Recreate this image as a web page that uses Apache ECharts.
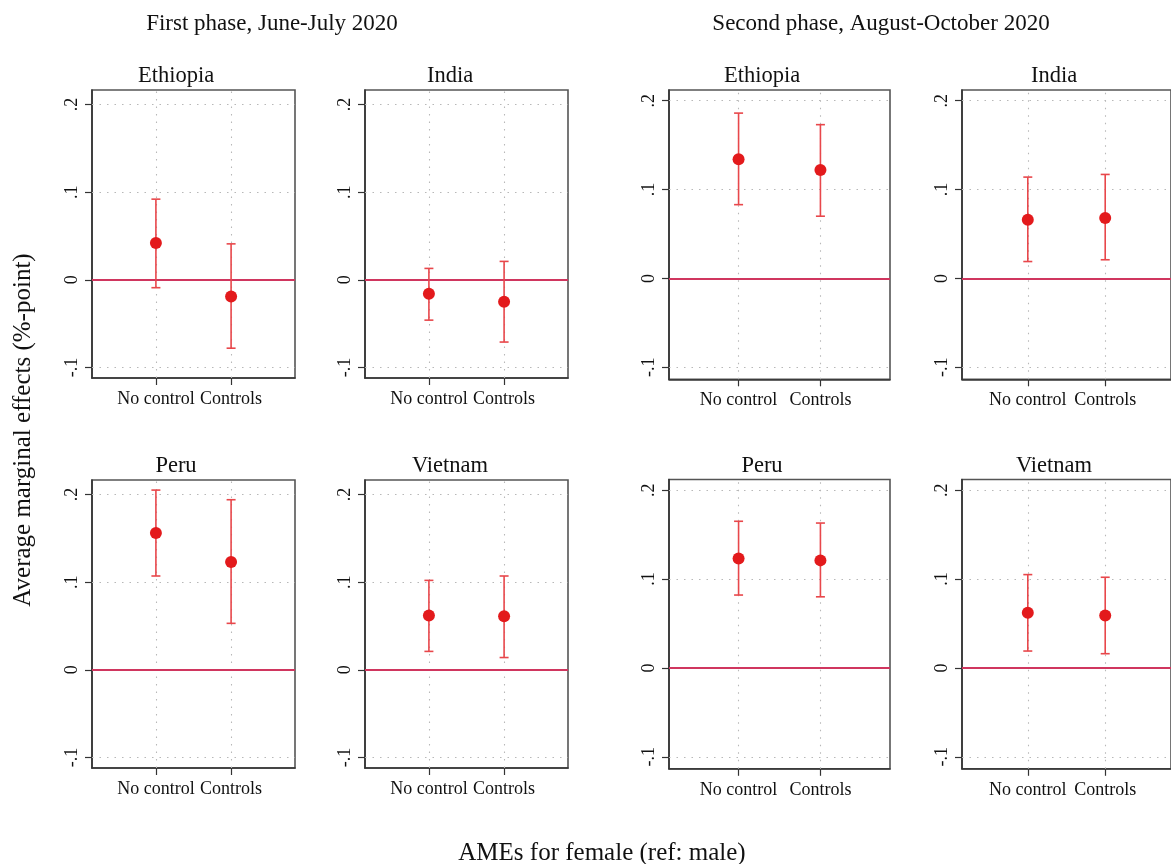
<!DOCTYPE html>
<html>
<head>
<meta charset="utf-8">
<script src="https://cdn.jsdelivr.net/npm/echarts@6/dist/echarts.min.js"></script>
<style>
  html, body { margin: 0; padding: 0; background: #ffffff; }
  #chart { width: 1171px; height: 864px; }
</style>
</head>
<body>
<div id="chart"></div>
<script>
// ---- Data ----------------------------------------------------------------
const phaseTitles = ['First phase, June-July 2020', 'Second phase, August-October 2020'];
const countries = ['Ethiopia', 'India', 'Peru', 'Vietnam'];
const specLabels = ['No control', 'Controls'];
const specPositions = [1, 2];
const yTickValues = [-0.1, 0, 0.1, 0.2];

// Average marginal effects for female (ref: male) with 95% CIs,
// one row per country, columns = [No control, Controls]
const phase1Estimate = [[0.042, -0.019], [-0.016, -0.025], [0.156, 0.123], [0.062, 0.061]];
const phase1Lower    = [[-0.009, -0.078], [-0.046, -0.071], [0.107, 0.053], [0.021, 0.014]];
const phase1Upper    = [[0.092, 0.041], [0.013, 0.021], [0.205, 0.194], [0.102, 0.107]];

const phase2Estimate = [[0.134, 0.122], [0.066, 0.068], [0.123, 0.121], [0.062, 0.059]];
const phase2Lower    = [[0.083, 0.070], [0.019, 0.021], [0.082, 0.080], [0.019, 0.016]];
const phase2Upper    = [[0.186, 0.173], [0.114, 0.117], [0.165, 0.163], [0.105, 0.102]];

// ---- Layout & style ------------------------------------------------------
const FONT = "'Liberation Serif', 'Times New Roman', serif";
const TEXT = '#111111';
const DOT = '#e31a1c';
const BAR = '#e8474b';
const ZERO = '#d0365f';
const GRIDC = '#b8b8b8';

const phaseLayout = [
  { lefts: [92, 365], width: 203, tops: [90, 480], height: 288,
    yMin: -0.112, yMax: 0.2165, xMin: 0.15, xMax: 2.85,
    titleX: [176, 450], headerX: 272 },
  { lefts: [669, 962], width: 221, tops: [90, 479.5], height: 289.3,
    yMin: -0.1135, yMax: 0.212, xMin: 0.15, xMax: 2.85,
    titleX: [762, 1054], headerX: 881 }
];
const titleY = [76, 466];

const phaseData = [
  { est: phase1Estimate, lo: phase1Lower, hi: phase1Upper },
  { est: phase2Estimate, lo: phase2Lower, hi: phase2Upper }
];

function stataFmt(v) {
  if (Math.abs(v) < 1e-9) return '0';
  const s = Math.abs(v).toFixed(1).replace(/^0/, '');
  return (v < 0 ? '-' : '') + s;
}

const grids = [], xAxes = [], yAxes = [], series = [], graphics = [];

const dotted = { color: GRIDC, width: 1.1, type: [1.5, 6] };

phaseLayout.forEach((L, p) => {
  graphics.push({
    type: 'text', x: L.headerX, y: 24,
    style: { text: phaseTitles[p], font: `23px ${FONT}`, fill: TEXT,
             textAlign: 'center', textVerticalAlign: 'middle' }
  });
  countries.forEach((country, c) => {
    const row = Math.floor(c / 2), col = c % 2;
    const idx = grids.length;
    grids.push({
      left: L.lefts[col], top: L.tops[row], width: L.width, height: L.height,
      show: true, borderColor: '#555555', borderWidth: 1.6, backgroundColor: '#ffffff'
    });
    xAxes.push({
      type: 'value', gridIndex: idx, min: L.xMin, max: L.xMax,
      axisLine: { show: true, onZero: false, lineStyle: { color: '#333333', width: 1.6 } },
      axisTick: { show: true, customValues: specPositions, length: 7, lineStyle: { color: '#333333', width: 1.2 } },
      axisLabel: {
        customValues: specPositions, margin: 12,
        fontFamily: FONT, fontSize: 18, color: TEXT,
        formatter: v => specLabels[specPositions.indexOf(Math.round(v))] || ''
      },
      splitLine: { show: false }
    });
    yAxes.push({
      type: 'value', gridIndex: idx, min: L.yMin, max: L.yMax,
      axisLine: { show: true, lineStyle: { color: '#333333', width: 1.6 } },
      axisTick: { show: true, customValues: yTickValues, length: 7, lineStyle: { color: '#333333', width: 1.2 } },
      axisLabel: {
        customValues: yTickValues, rotate: 90, margin: 11,
        fontFamily: FONT, fontSize: 18, color: TEXT,
        formatter: v => stataFmt(v)
      },
      splitLine: { show: false }
    });

    const D = phaseData[p];
    const ciData = specPositions.map((x, k) => [x, D.lo[c][k], D.hi[c][k]]);
    const ptData = specPositions.map((x, k) => [x, D.est[c][k]]);

    // reference grid, category guides and the zero line
    const guideLines = yTickValues.filter(v => v !== 0).map(v => ({ yAxis: v }))
      .concat(specPositions.map(x => ({ xAxis: x })))
      .concat([{ yAxis: 0, lineStyle: { color: ZERO, width: 1.8, type: 'solid' } }]);

    series.push({
      type: 'custom', xAxisIndex: idx, yAxisIndex: idx, z: 3,
      data: ciData,
      encode: { x: 0, y: [1, 2] },
      renderItem: (params, api) => {
        const x = api.value(0);
        const top = api.coord([x, api.value(2)]);
        const bot = api.coord([x, api.value(1)]);
        const hw = 4.5;
        const st = { stroke: BAR, lineWidth: 1.6 };
        return {
          type: 'group',
          children: [
            { type: 'line', shape: { x1: top[0], y1: top[1], x2: bot[0], y2: bot[1] }, style: st },
            { type: 'line', shape: { x1: top[0] - hw, y1: top[1], x2: top[0] + hw, y2: top[1] }, style: st },
            { type: 'line', shape: { x1: bot[0] - hw, y1: bot[1], x2: bot[0] + hw, y2: bot[1] }, style: st }
          ]
        };
      }
    });
    series.push({
      type: 'scatter', xAxisIndex: idx, yAxisIndex: idx, z: 4,
      symbol: 'circle', symbolSize: 12,
      itemStyle: { color: DOT, opacity: 1 },
      data: ptData,
      markLine: {
        silent: true, symbol: 'none', z: 2,
        label: { show: false },
        lineStyle: dotted,
        data: guideLines
      }
    });

    graphics.push({
      type: 'text', x: L.titleX[col], y: titleY[row],
      style: { text: country, font: `22.5px ${FONT}`, fill: TEXT,
               textAlign: 'center', textVerticalAlign: 'middle' }
    });
  });
});

graphics.push({
  type: 'text', x: 23, y: 430, rotation: Math.PI / 2,
  style: { text: 'Average marginal effects (%-point)', font: `25px ${FONT}`, fill: TEXT,
           textAlign: 'center', textVerticalAlign: 'middle' }
});
graphics.push({
  type: 'text', x: 602, y: 853,
  style: { text: 'AMEs for female (ref: male)', font: `25px ${FONT}`, fill: TEXT,
           textAlign: 'center', textVerticalAlign: 'middle' }
});

const chart = echarts.init(document.getElementById('chart'), null, { renderer: 'canvas' });
chart.setOption({
  backgroundColor: '#ffffff',
  animation: false,
  grid: grids,
  xAxis: xAxes,
  yAxis: yAxes,
  series: series,
  graphic: graphics
});
</script>
</body>
</html>
